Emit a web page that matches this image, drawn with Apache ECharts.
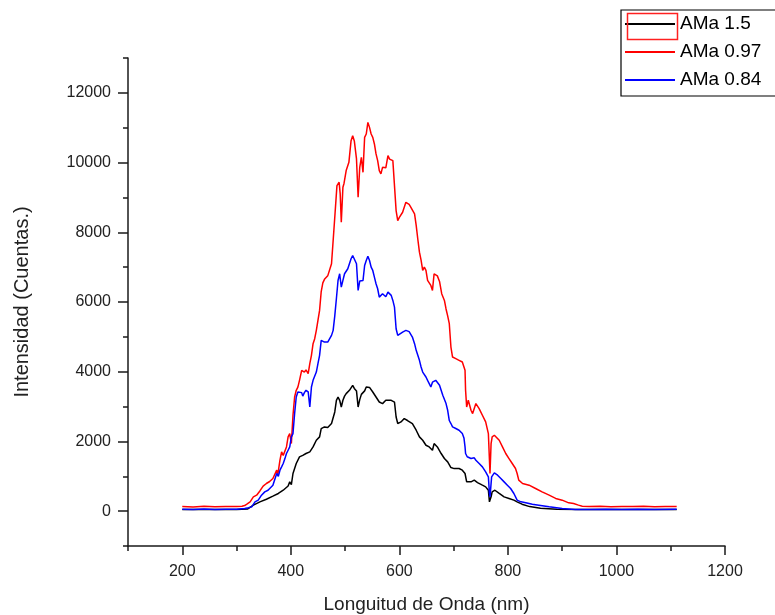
<!DOCTYPE html>
<html>
<head>
<meta charset="utf-8">
<script src="https://cdn.jsdelivr.net/npm/echarts@6/dist/echarts.min.js"></script>
<style>html,body{margin:0;padding:0;background:#fff;}#c{width:775px;height:615px;}</style>
</head>
<body>
<div id="c"></div>
<script>
// ---- Data ----
const seriesNames = ['AMa 1.5', 'AMa 0.97', 'AMa 0.84'];
const xMajorTicks = [200, 400, 600, 800, 1000, 1200];
const xMinorTicks = [100, 300, 500, 700, 900, 1100];
const yMajorTicks = [0, 2000, 4000, 6000, 8000, 10000, 12000];
const yMinorTicks = [-1000, 1000, 3000, 5000, 7000, 9000, 11000, 13000];

const wlBlack = [200,240,280,300,320,331,343,355,367,377,386,395,398,401,404,410,416,422,428,435,441,447,453,456,462,468,475,481,484,487,490,493,496,499,502,508,514,517,521,524,527,530,533,536,539,542,545,551,557,563,569,575,585,591,594,597,603,609,615,624,631,637,643,649,655,661,664,670,677,683,689,695,701,710,716,721,724,727,732,738,744,753,759,764,766,769,771,776,784,793,802,811,817,826,840,860,890,930,980,1030,1080,1111];
const amaBlack = [45,50,45,50,60,172,267,340,430,507,600,720,840,760,1080,1366,1556,1600,1653,1700,1842,2034,2130,2369,2417,2400,2513,2845,3180,3275,3180,2988,3180,3300,3371,3467,3610,3520,3450,2988,3200,3350,3371,3450,3561,3610,3550,3418,3275,3131,3085,3180,3180,3130,2702,2513,2560,2656,2600,2513,2321,2130,2034,1891,1842,1748,1939,1842,1653,1510,1413,1250,1220,1223,1175,1080,840,880,840,888,820,745,697,600,267,410,553,600,507,410,364,315,267,200,130,80,55,50,45,50,45,50];

const wlRed = [200,220,240,260,280,300,310,315,319,325,331,337,343,349,355,361,367,374,376,380,383,386,389,392,395,398,401,404,407,410,413,416,420,422,425,428,432,435,438,441,444,447,450,453,456,459,462,465,468,471,475,478,481,485,489,491,493,496,498,502,507,511,514,517,521,524,527,530,533,536,539,542,545,548,551,554,557,560,563,566,569,572,575,579,582,585,588,591,594,597,600,603,606,612,615,618,621,624,628,631,634,637,640,643,646,649,652,655,658,661,664,667,670,674,678,683,686,689,692,695,698,704,710,716,721,722,724,727,732,735,741,747,753,759,764,766,767,769,771,775,778,784,790,796,802,808,814,817,820,827,839,851,863,876,888,900,912,921,930,937,950,970,990,1010,1030,1050,1070,1090,1111];
const amaRed = [130,120,140,125,135,130,140,160,200,267,410,458,580,720,793,850,936,1175,1050,1461,1699,1600,1556,1842,2130,2226,1939,2750,3275,3467,3560,3753,4040,4090,3990,4050,3945,4231,4469,4804,4948,5186,5472,5759,6300,6550,6650,6600,6750,6800,7097,7764,8431,9340,9435,9100,8289,9292,9400,9770,10007,10629,10772,10620,10105,9005,9864,10150,9721,10724,10820,11153,11010,10820,10724,10534,10248,10056,9770,9675,9864,9910,9850,10200,10100,10151,10056,10007,8624,8337,8430,8480,8575,8861,8910,8800,8720,8720,8529,8200,7800,7430,7200,6906,7000,6905,6620,6570,6475,6332,6810,6860,6750,6590,6237,6045,5800,5600,5378,4707,4421,4374,4327,4278,4040,3467,2988,3180,2894,2800,3085,2942,2750,2559,2226,1461,1080,1939,2130,2177,2177,2034,1842,1653,1509,1366,1223,1080,888,793,745,650,553,458,364,315,238,220,172,143,130,140,125,135,130,140,125,135,130];

const wlBlue = [200,220,240,260,280,300,315,322,328,334,340,346,352,358,361,367,374,377,380,383,386,389,392,395,398,401,404,407,410,413,416,420,422,425,428,432,435,438,441,444,447,450,453,456,459,462,465,468,471,475,478,481,484,487,490,493,496,499,502,505,508,511,514,517,521,524,527,530,533,536,539,542,545,548,551,554,557,560,563,566,569,572,575,579,582,585,588,591,594,597,600,606,612,618,624,628,631,637,640,643,649,652,655,658,661,667,674,680,686,689,692,695,698,704,710,716,719,721,722,725,728,732,738,741,747,753,759,764,766,767,770,775,781,787,793,799,805,811,817,824,833,845,857,876,900,924,950,980,1010,1040,1070,1111];
const amaBlue = [55,50,60,50,55,55,77,100,123,267,315,458,553,600,650,745,1080,1000,1175,1270,1366,1500,1653,1748,1842,2130,2226,2800,3275,3420,3371,3400,3300,3400,3467,3420,2988,3561,3753,3800,3991,4231,4469,4899,4950,4850,4870,4850,4804,5042,5186,5600,6100,6618,6810,6426,6620,6810,6850,6953,7100,7240,7334,7280,7096,6332,6600,6650,6618,7048,7192,7315,7192,7000,6905,6713,6523,6380,6140,6140,6237,6200,6150,6284,6240,6190,6045,5853,5234,5042,5080,5137,5186,5150,4994,4804,4613,4326,4134,3990,3848,3750,3659,3560,3700,3753,3610,3323,3086,2894,2600,2513,2417,2370,2321,2226,2100,1842,1653,1560,1580,1509,1530,1461,1366,1270,1126,983,507,410,983,1097,1031,936,840,745,650,507,315,267,240,200,172,123,77,50,50,55,50,55,50,55];

function zip(xs, ys) { return xs.map((x, i) => [x, ys[i]]); }
const plain = v => String(v);

const chart = echarts.init(document.getElementById('c'), null, {renderer: 'canvas'});
const FONT = '"Liberation Sans", Arial, sans-serif';
const AX = '#1a1a1a';

const option = {
  animation: false,
  backgroundColor: '#ffffff',
  grid: {left: 128, right: 50, top: 58, bottom: 69, containLabel: false, outerBoundsMode: 'none'},
  legend: {
    orient: 'vertical',
    left: 621, top: 10,
    padding: [4, 30, 6, 4],
    itemGap: 8,
    itemWidth: 50, itemHeight: 2,
    icon: 'rect',
    borderColor: '#000', borderWidth: 1.2,
    backgroundColor: '#fff',
    textStyle: {fontFamily: FONT, fontSize: 19, color: '#000', lineHeight: 20},
    data: seriesNames
  },
  xAxis: [
    {
      type: 'value', min: 100, max: 1200, position: 'bottom',
      name: 'Longuitud de Onda (nm)', nameLocation: 'middle', nameGap: 49,
      nameTextStyle: {fontFamily: FONT, fontSize: 19, color: '#222'},
      axisLine: {show: true, onZero: false, lineStyle: {color: AX, width: 1.5}},
      axisTick: {show: true, inside: false, length: 9, lineStyle: {color: AX, width: 1.5}, customValues: xMajorTicks},
      axisLabel: {fontFamily: FONT, fontSize: 16, color: '#222', margin: 18, customValues: xMajorTicks, formatter: plain},
      splitLine: {show: false}
    },
    {
      type: 'value', min: 100, max: 1200, position: 'bottom',
      axisLine: {show: false, onZero: false},
      axisTick: {show: true, inside: false, length: 5, lineStyle: {color: AX, width: 1.5}, customValues: xMinorTicks},
      axisLabel: {show: false},
      splitLine: {show: false}
    }
  ],
  yAxis: [
    {
      type: 'value', min: -1000, max: 13000, position: 'left',
      name: 'Intensidad (Cuentas.)', nameLocation: 'middle', nameGap: 96,
      nameTextStyle: {fontFamily: FONT, fontSize: 20, color: '#222'},
      axisLine: {show: true, onZero: false, lineStyle: {color: AX, width: 1.5}},
      axisTick: {show: true, inside: false, length: 10, lineStyle: {color: AX, width: 1.5}, customValues: yMajorTicks},
      axisLabel: {fontFamily: FONT, fontSize: 16, color: '#222', margin: 17, customValues: yMajorTicks, formatter: plain},
      splitLine: {show: false}
    },
    {
      type: 'value', min: -1000, max: 13000, position: 'left',
      axisLine: {show: false, onZero: false},
      axisTick: {show: true, inside: false, length: 5, lineStyle: {color: AX, width: 1.5}, customValues: yMinorTicks},
      axisLabel: {show: false},
      splitLine: {show: false}
    }
  ],
  series: [
    {name: seriesNames[0], type: 'line', data: zip(wlBlack, amaBlack), symbol: 'none', showSymbol: false,
     lineStyle: {color: '#000000', width: 1.5}, itemStyle: {color: '#000000'}, z: 2},
    {name: seriesNames[1], type: 'line', data: zip(wlRed, amaRed), symbol: 'none', showSymbol: false,
     lineStyle: {color: '#ff0000', width: 1.5}, itemStyle: {color: '#ff0000'}, z: 3},
    {name: seriesNames[2], type: 'line', data: zip(wlBlue, amaBlue), symbol: 'none', showSymbol: false,
     lineStyle: {color: '#0000ff', width: 1.5}, itemStyle: {color: '#0000ff'}, z: 4}
  ],
  graphic: [
    {type: 'rect', left: 625, top: 11, z: 100, silent: true,
     shape: {width: 50, height: 26}, style: {fill: 'none', stroke: '#ff2020', lineWidth: 1.5}}
  ]
};
chart.setOption(option);
</script>
</body>
</html>
